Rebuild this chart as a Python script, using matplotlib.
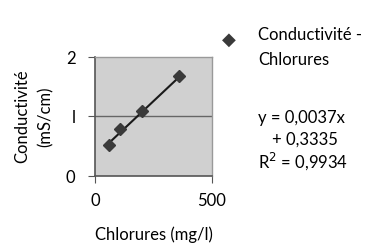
import matplotlib
matplotlib.use("Agg")
import matplotlib.pyplot as plt
import numpy as np

# data
chlorures = [60, 105, 200, 360]          # mg/l
conductivite = [0.52, 0.79, 1.10, 1.68]  # mS/cm
pente = 0.0037
ordonnee = 0.3335
r2 = 0.9934
xticks = [0, 500]
yticks = [0, 1, 2]

plt.rcParams['font.family'] = ['Lato', 'DejaVu Sans']
fs = 12

fig = plt.figure(figsize=(3.75, 2.49), dpi=100)
ax = fig.add_axes([95 / 375, 1 - 176 / 249, 117 / 375, 119 / 249])

ax.set_facecolor('#d0d0d0')
ax.axhline(1, color='#666666', lw=1.0, zorder=1)

# points + trend line
ax.plot(chlorures, conductivite, linestyle='none', marker='D', ms=6.5,
        color='#3a3a3a', zorder=3)
xs = np.array([chlorures[0], chlorures[-1]])
ax.plot(xs, pente * xs + ordonnee, color='#1a1a1a', lw=1.5, zorder=2)

ax.set_xlim(0, 500)
ax.set_ylim(0, 2)
ax.set_xticks(xticks)
ax.set_yticks(yticks)
ax.set_xticklabels(['0', '500'])
ax.set_yticklabels(['0', 'l', '2'])
ax.tick_params(labelsize=fs, length=5, color='#555555')
ax.tick_params(axis='x', pad=7)
ax.tick_params(axis='y', pad=9)

for side in ['left', 'bottom']:
    ax.spines[side].set_color('#555555')
    ax.spines[side].set_linewidth(1.2)
for side in ['top', 'right']:
    ax.spines[side].set_color('#999999')
    ax.spines[side].set_linewidth(1.0)

ax.set_xlabel('Chlorures (mg/l)', fontsize=fs, labelpad=13)
ax.set_ylabel('Conductivité\n(mS/cm)', fontsize=fs, labelpad=9,
              linespacing=1.5)

# legend, drawn by hand like the Excel box
fig.text(229 / 375, 1 - 40 / 249, '\u25C6', fontsize=13, color='#3a3a3a',
         ha='center', va='center', family='DejaVu Sans')
fig.text(258 / 375, 1 - 35 / 249, 'Conductivité -', fontsize=fs, va='center')
fig.text(258 / 375, 1 - 60 / 249, 'Chlorures', fontsize=fs, va='center')

# equation of the trend line
fig.text(258 / 375, 1 - 118 / 249, 'y = 0,0037x', fontsize=fs, va='center')
fig.text(272 / 375, 1 - 140 / 249, '+ 0,3335', fontsize=fs, va='center')
fig.text(258 / 375, 1 - 161 / 249, 'R$^{2}$ = 0,9934', fontsize=fs, va='center')

fig.savefig('out.png', dpi=100)
